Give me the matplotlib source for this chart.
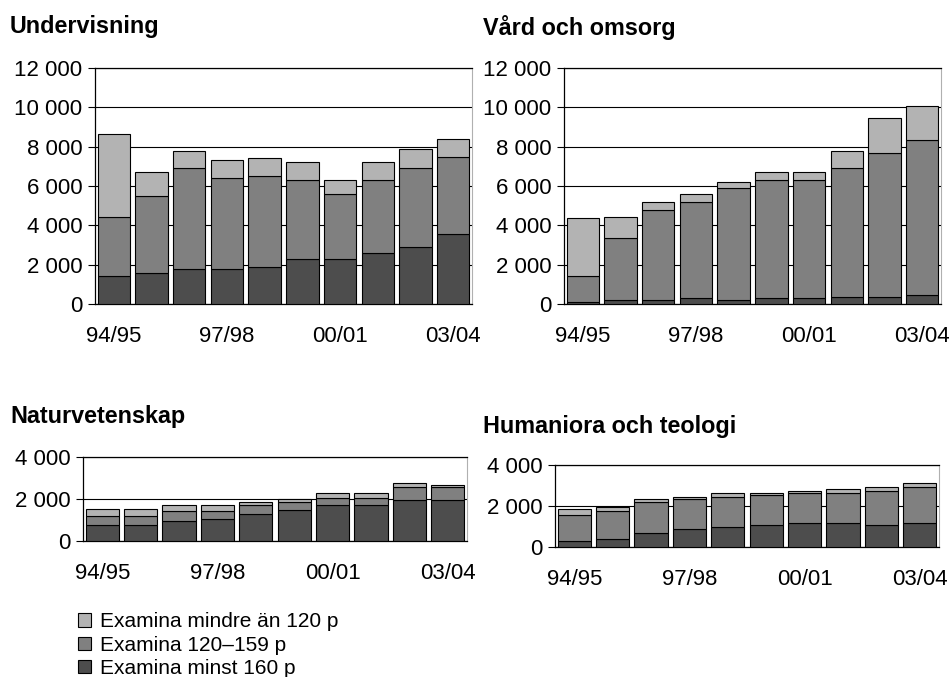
import matplotlib
matplotlib.use("Agg")
import matplotlib.pyplot as plt
import numpy as np

plt.rcParams["font.family"] = ["Liberation Sans", "DejaVu Sans"]

# Academic years (x axis)
years = ["94/95", "95/96", "96/97", "97/98", "98/99", "99/00",
         "00/01", "01/02", "02/03", "03/04"]
tick_years = ["94/95", "97/98", "00/01", "03/04"]

# Stacked values per panel: minst 160 p, 120-159 p, mindre än 120 p
undervisning_160 = [1400, 1600, 1800, 1800, 1900, 2300, 2300, 2600, 2900, 3550]
undervisning_120 = [3000, 3900, 5100, 4600, 4600, 4000, 3300, 3700, 4000, 3950]
undervisning_lt = [4250, 1200, 900, 900, 900, 900, 700, 900, 1000, 900]

vard_160 = [80, 180, 180, 280, 180, 280, 280, 380, 380, 480]
vard_120 = [1320, 3170, 4620, 4920, 5720, 6020, 6020, 6520, 7320, 7850]
vard_lt = [2950, 1050, 400, 400, 300, 400, 400, 900, 1750, 1750]

natur_160 = [750, 750, 950, 1050, 1300, 1500, 1700, 1700, 1950, 1950]
natur_120 = [450, 450, 500, 400, 400, 370, 370, 370, 600, 600]
natur_lt = [300, 300, 250, 250, 180, 110, 230, 230, 200, 120]

human_160 = [280, 400, 680, 880, 980, 1080, 1180, 1180, 1080, 1180]
human_120 = [1300, 1380, 1500, 1480, 1460, 1450, 1450, 1450, 1650, 1750]
human_lt = [260, 170, 170, 80, 170, 80, 100, 200, 180, 200]

labels = ["Examina minst 160 p", "Examina 120\u2013159 p", "Examina mindre än 120 p"]
colors = ["#4d4d4d", "#808080", "#b3b3b3"]

W, H = 951, 677
fig = plt.figure(figsize=(W / 100, H / 100), dpi=100)


def px_axes(left, top, right, bottom):
    return fig.add_axes([left / W, 1 - bottom / H, (right - left) / W, (bottom - top) / H])


def fmt(v):
    return f"{int(v):,}".replace(",", " ")


def panel(ax, series, ymax, step, title, tx, ty):
    x = np.arange(len(years))
    base = np.zeros(len(years))
    bars = []
    for vals, c, lab in zip(series, colors, labels):
        b = ax.bar(x, vals, bottom=base, width=0.86, color=c, edgecolor="black",
                   linewidth=0.8, label=lab, zorder=3)
        bars.append(b)
        base = base + np.array(vals)
    ax.set_xlim(-0.5, 9.5)
    ax.set_ylim(0, ymax)
    yt = np.arange(0, ymax + 1, step)
    ax.set_yticks(yt)
    ax.set_yticklabels([fmt(v) for v in yt], fontsize=16)
    ax.set_xticks([years.index(t) for t in tick_years])
    ax.set_xticklabels(tick_years, fontsize=16)
    ax.tick_params(axis="x", length=0, pad=16)
    ax.tick_params(axis="y", length=5, width=0.8, pad=4, direction="out")
    ax.grid(axis="y", color="black", linewidth=0.8, zorder=0)
    for s in ["left", "bottom", "top"]:
        ax.spines[s].set_color("black")
        ax.spines[s].set_linewidth(0.9)
    ax.spines["right"].set_color("#b0b0b0")
    fig.text(tx / W, 1 - ty / H, title, fontsize=16.8, fontweight="bold",
             ha="left", va="center")
    return bars


ax1 = px_axes(95, 68, 472, 304)
bars = panel(ax1, [undervisning_160, undervisning_120, undervisning_lt],
             12000, 2000, "Undervisning", 10, 27)

ax2 = px_axes(564, 68, 941, 304)
panel(ax2, [vard_160, vard_120, vard_lt], 12000, 2000, "Vård och omsorg", 483, 27)

ax3 = px_axes(83, 457, 467, 541)
panel(ax3, [natur_160, natur_120, natur_lt], 4000, 2000, "Naturvetenskap", 10, 417)

ax4 = px_axes(555, 465, 939, 547)
panel(ax4, [human_160, human_120, human_lt], 4000, 2000, "Humaniora och teologi", 483, 427)

handles = bars[::-1]
fig.legend(handles, [h.get_label() for h in handles], loc="upper left",
           bbox_to_anchor=(68 / W, 1 - 602 / H), frameon=False, fontsize=15,
           borderpad=0, labelspacing=0.2, handlelength=0.6, handleheight=0.6,
           handletextpad=0.45)

fig.savefig("out.png", dpi=100)
